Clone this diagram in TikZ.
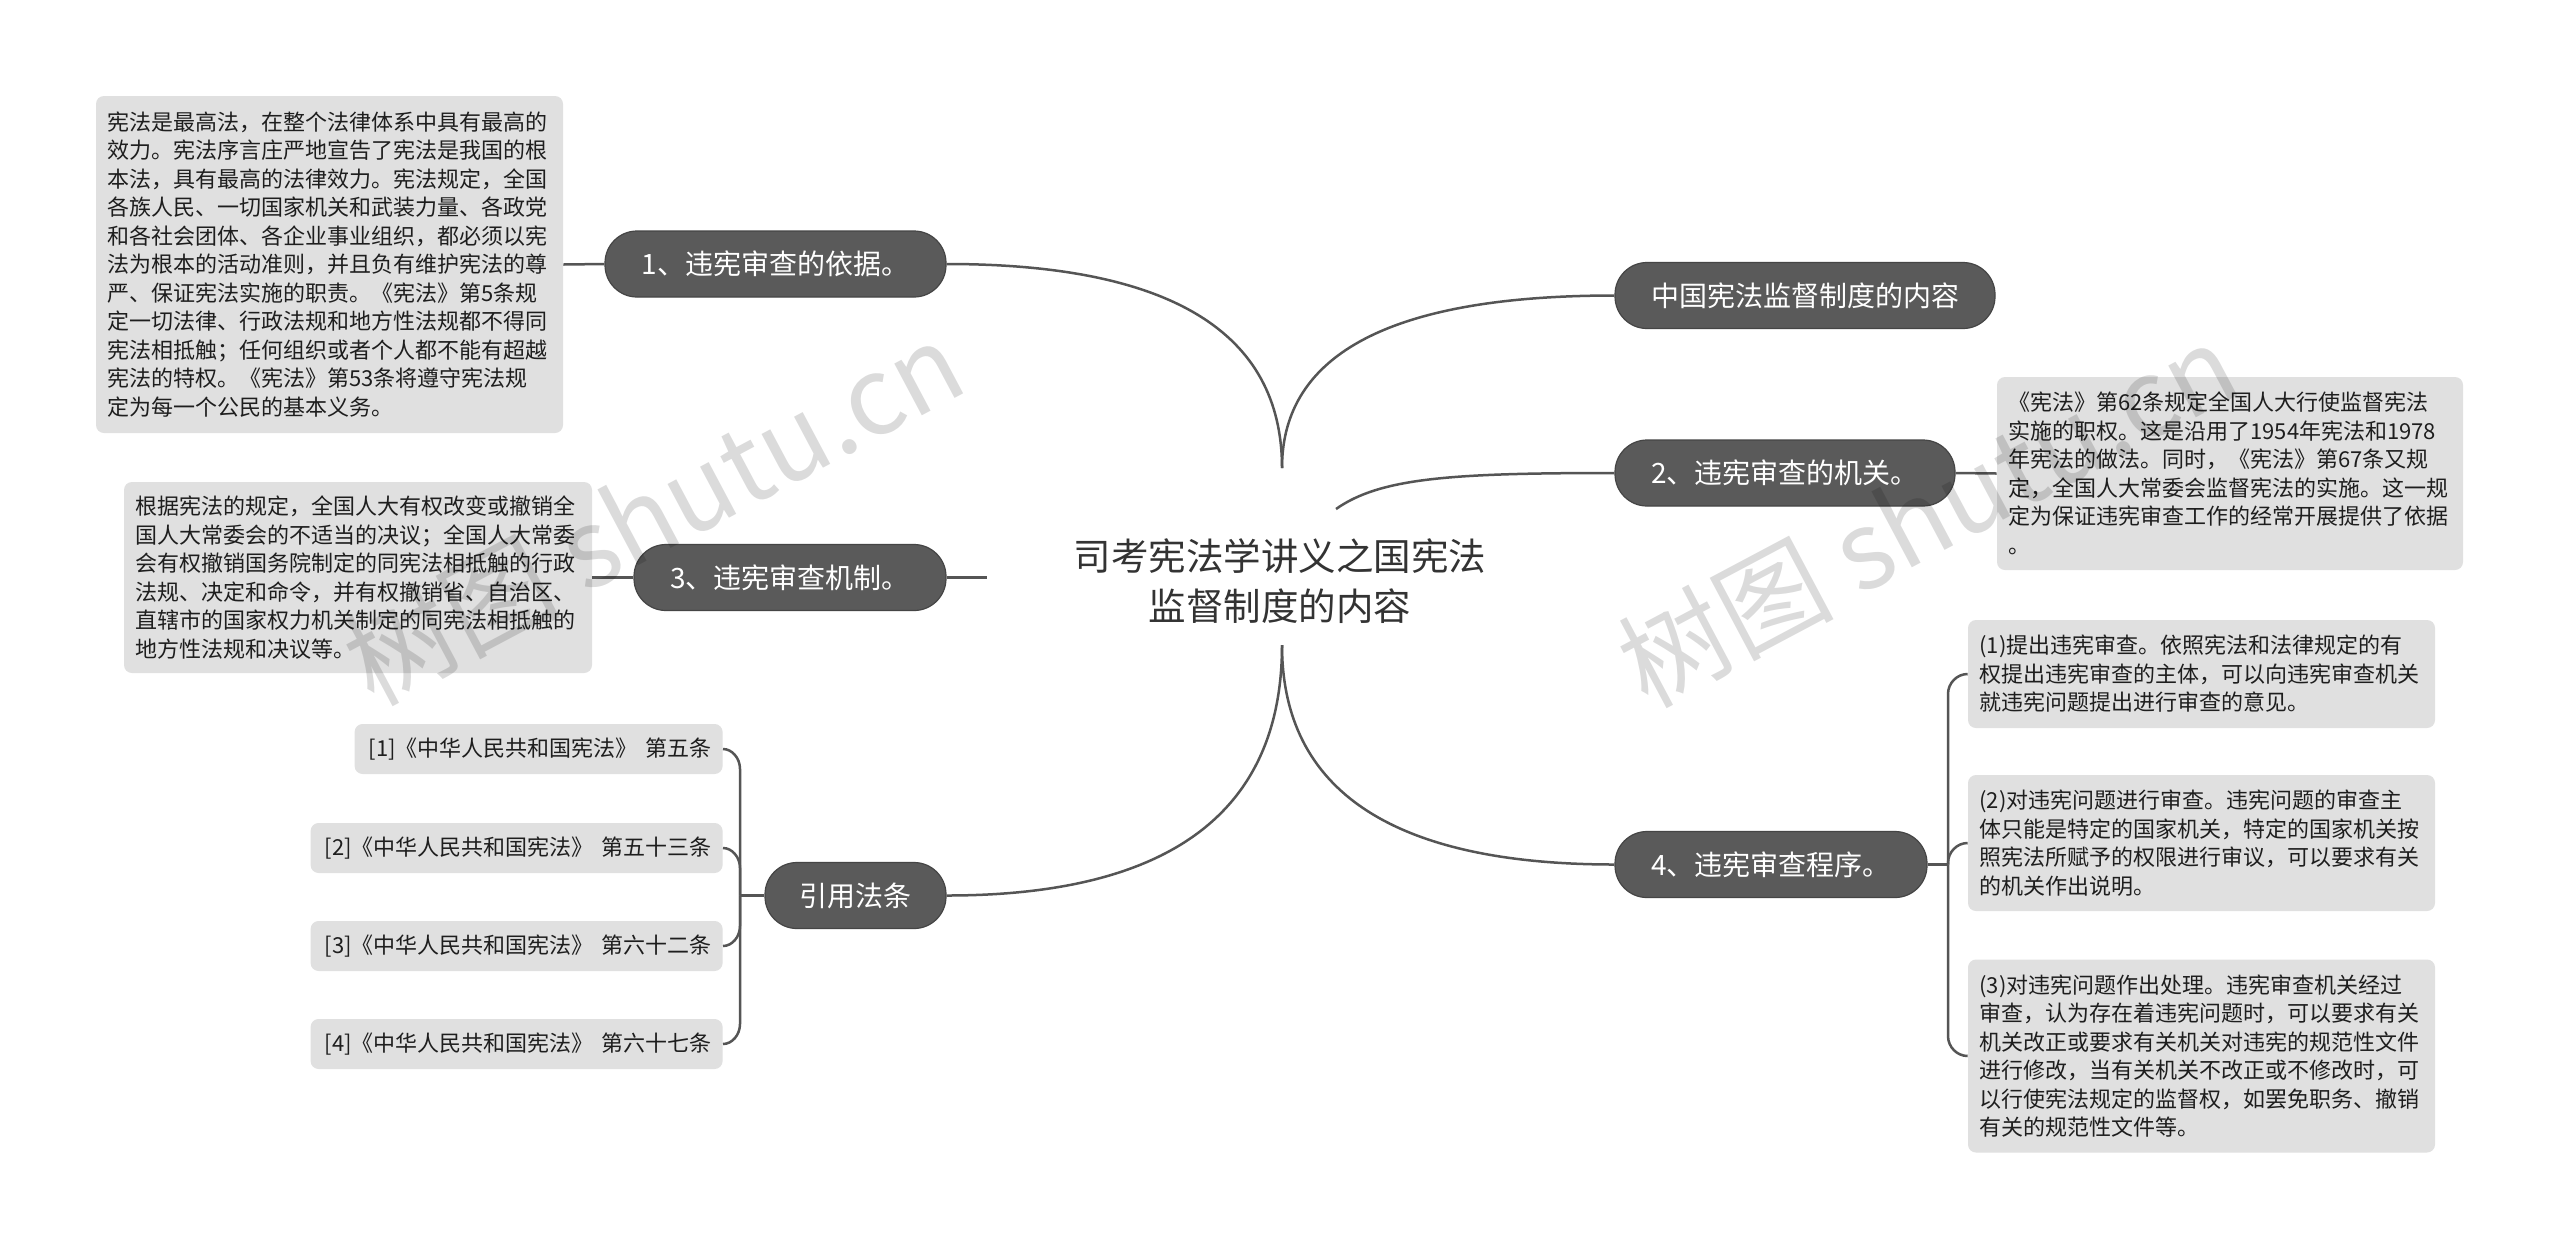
\documentclass[tikz,border=0pt]{standalone}
\usepackage{fontspec}
\setmainfont{Noto Sans CJK SC}
\definecolor{brfill}{HTML}{5A5A5A}
\definecolor{brdraw}{HTML}{454545}
\definecolor{leaffill}{HTML}{E0E0E0}
\definecolor{leaftext}{HTML}{1E1E1E}
\definecolor{linecol}{HTML}{555555}
\definecolor{maintext}{HTML}{333333}
\begin{document}
\begin{tikzpicture}[x=0.5pt,y=-0.5pt,
  branch/.style={fill=brfill,draw=brdraw,line width=0.6pt,rounded corners=16pt,text=white,
    font=\fontsize{14}{17}\selectfont,inner sep=0pt,minimum height=33pt},
  leaf/.style={fill=leaffill,rounded corners=4pt,text=leaftext,
    font=\fontsize{11}{14.25}\selectfont,align=left,inner xsep=5.75pt,inner ysep=0pt},
  cite/.style={fill=leaffill,rounded corners=4pt,text=leaftext,anchor=east,
    font=\fontsize{11}{14.25}\selectfont,align=right,inner xsep=5.75pt,inner ysep=0pt,minimum height=25pt},
  conn/.style={draw=linecol,line width=1.25pt},
  wm/.style={text=black,text opacity=0.14,font=\fontsize{54}{56}\selectfont,rotate=28}]
\useasboundingbox[fill=white] (0,0) rectangle (2560,1249);

% central topic
\node[text=maintext,font=\fontsize{18.75}{25}\selectfont,align=center] (c) at (1280,581)
  {司考宪法学讲义之国宪法\\监督制度的内容};
\coordinate (ct) at (1282,468);
\coordinate (cb) at (1282,645);
\coordinate (cr) at (1336,509);

% branch topics
\node[branch,minimum width=170.5pt] (n1) at (775.5,264) {1、违宪审查的依据。};
\node[branch,minimum width=190pt] (n0) at (1805,295.5) {中国宪法监督制度的内容};
\node[branch,minimum width=170pt] (n2) at (1785,473) {2、违宪审查的机关。};
\node[branch,minimum width=156pt] (n3) at (790,577.5) {3、违宪审查机制。};
\node[branch,minimum width=156pt] (n4) at (1771,864.5) {4、违宪审查程序。};
\node[branch,minimum width=90.5pt] (n5) at (855.5,895.5) {引用法条};

% leaf text boxes
\node[leaf,text width=222pt,minimum height=168.5pt] (ta) at (329.5,264.5)
  {宪法是最高法，在整个法律体系中具有最高的\\
   效力。宪法序言庄严地宣告了宪法是我国的根\\
   本法，具有最高的法律效力。宪法规定，全国\\
   各族人民、一切国家机关和武装力量、各政党\\
   和各社会团体、各企业事业组织，都必须以宪\\
   法为根本的活动准则，并且负有维护宪法的尊\\
   严、保证宪法实施的职责。《宪法》第5条规\\
   定一切法律、行政法规和地方性法规都不得同\\
   宪法相抵触；任何组织或者个人都不能有超越\\
   宪法的特权。《宪法》第53条将遵守宪法规\\
   定为每一个公民的基本义务。};
\node[leaf,text width=222.5pt,minimum height=95.5pt] (tb) at (358,577.5)
  {根据宪法的规定，全国人大有权改变或撤销全\\
   国人大常委会的不适当的决议；全国人大常委\\
   会有权撤销国务院制定的同宪法相抵触的行政\\
   法规、决定和命令，并有权撤销省、自治区、\\
   直辖市的国家权力机关制定的同宪法相抵触的\\
   地方性法规和决议等。};
\node[leaf,text width=221.5pt,minimum height=96.5pt] (tc) at (2230,473.5)
  {《宪法》第62条规定全国人大行使监督宪法\\
   实施的职权。这是沿用了1954年宪法和1978\\
   年宪法的做法。同时，《宪法》第67条又规\\
   定，全国人大常委会监督宪法的实施。这一规\\
   定为保证违宪审查工作的经常开展提供了依据\\
   。};
\node[leaf,text width=222pt,minimum height=54pt] (td) at (2201.5,674)
  {(1)提出违宪审查。依照宪法和法律规定的有\\
   权提出违宪审查的主体，可以向违宪审查机关\\
   就违宪问题提出进行审查的意见。};
\node[leaf,text width=222pt,minimum height=68pt] (te) at (2201.5,843)
  {(2)对违宪问题进行审查。违宪问题的审查主\\
   体只能是特定的国家机关，特定的国家机关按\\
   照宪法所赋予的权限进行审议，可以要求有关\\
   的机关作出说明。};
\node[leaf,text width=222pt,minimum height=96.5pt] (tf) at (2201.5,1056)
  {(3)对违宪问题作出处理。违宪审查机关经过\\
   审查，认为存在着违宪问题时，可以要求有关\\
   机关改正或要求有关机关对违宪的规范性文件\\
   进行修改，当有关机关不改正或不修改时，可\\
   以行使宪法规定的监督权，如罢免职务、撤销\\
   有关的规范性文件等。};

% citations
\node[cite,text width=172.5pt] (k1) at (723,749) {[1]《中华人民共和国宪法》 第五条};
\node[cite,text width=194.5pt] (k2) at (723,848) {[2]《中华人民共和国宪法》 第五十三条};
\node[cite,text width=194.5pt] (k3) at (723,946) {[3]《中华人民共和国宪法》 第六十二条};
\node[cite,text width=194.5pt] (k4) at (723,1044) {[4]《中华人民共和国宪法》 第六十七条};

% connectors from the central topic
\draw[conn] (ct) .. controls (1282,332) and (1170,264) .. (n1.east);
\draw[conn] (ct) .. controls (1282,353) and (1393,295.5) .. (n0.west);
\draw[conn] (cr) .. controls (1380,478) and (1450,473) .. (n2.west);
\draw[conn] (cb) .. controls (1282,791) and (1393,864.5) .. (n4.west);
\draw[conn] (cb) .. controls (1282,812) and (1170,895.5) .. (n5.east);

% branch to leaf connectors
\draw[conn] (n1.west) -- (ta.east);
\draw[conn] (n2.east) -- (tc.west);
\draw[conn] (n3.west) -- (tb.east);
\coordinate (s3) at (987,577.5);
\draw[conn] (n3.east) -- (s3);

\coordinate (j4) at (1948,864.5);
\draw[conn] (n4.east) -- (j4);
\draw[conn] (j4) -- (1948,694) .. controls (1948,683) and (1957,674) .. (td.west);
\draw[conn] (j4) -- (1948,863) .. controls (1948,852) and (1957,843) .. (te.west);
\draw[conn] (j4) -- (1948,1036) .. controls (1948,1047) and (1957,1056) .. (tf.west);

\coordinate (j5) at (740,895.5);
\draw[conn] (n5.west) -- (j5);
\draw[conn] (j5) -- (740,769) .. controls (740,758) and (732,749) .. (k1.east);
\draw[conn] (j5) -- (740,868) .. controls (740,857) and (732,848) .. (k2.east);
\draw[conn] (j5) -- (740,926) .. controls (740,937) and (732,946) .. (k3.east);
\draw[conn] (j5) -- (740,1024) .. controls (740,1035) and (732,1044) .. (k4.east);

% watermarks
\node[wm] (w1) at (653,512) {树图 shutu.cn};
\node[wm] (w2) at (1927,514) {树图 shutu.cn};
\end{tikzpicture}
\end{document}
